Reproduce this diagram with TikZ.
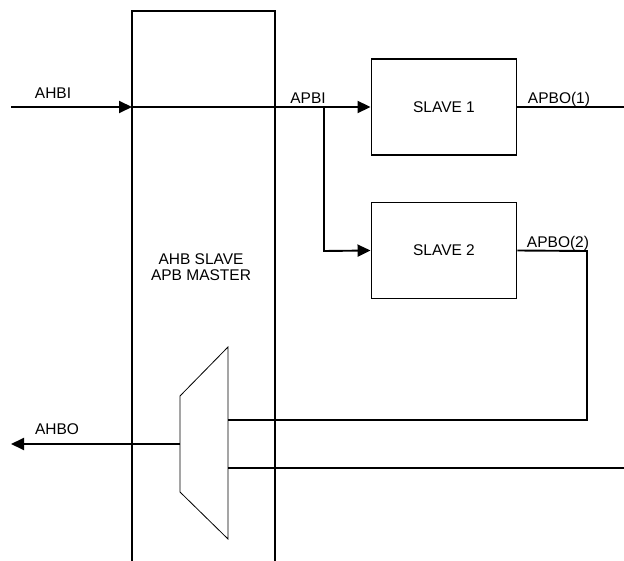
\documentclass[tikz,border=0pt]{standalone}
\usepackage{fontspec}
\setmainfont{Liberation Sans}
\usetikzlibrary{arrows.meta}
\begin{document}
\begin{tikzpicture}[x=1pt,y=-1pt,
  wire/.style={line width=1.9pt},
  arr/.style={wire,-{Triangle[length=13pt,width=12pt]}},
  slavebox/.style={draw,line width=1.9pt,minimum width=145pt,minimum height=96pt,inner sep=0pt,font=\fontsize{15.5}{17}\selectfont},
  lbl/.style={font=\fontsize{15.5}{17}\selectfont,inner sep=0pt}]
\useasboundingbox (0,0) rectangle (624,561);
% big box (open at the bottom)
\draw[wire] (132,561) -- (132,11) -- (275,11) -- (275,561);
\node[lbl,align=center,font=\fontsize{15.5}{15.5}\selectfont] (bridge) at (201,267) {AHB SLAVE\\APB MASTER};
% slaves
\node[slavebox] (s1) at (444,107) {SLAVE 1};
\node[slavebox] (s2) at (444,250.5) {SLAVE 2};
% coordinates
\coordinate (ahbiin) at (11,107);
\coordinate (boxin) at (132,107);
\coordinate (br) at (324,107);
\coordinate (brd) at (324,251);
\coordinate (o1) at (624,107);
\coordinate (o2a) at (587,251);
\coordinate (o2b) at (587,420);
\coordinate (m1) at (228,420);
\coordinate (m2) at (228,468);
\coordinate (o3) at (624,468);
\coordinate (mout) at (180,444);
\coordinate (ahbo) at (11,444);
% mux
\draw[line width=0.8pt] (180,396) -- (228,347) -- (228,539) -- (180,492) -- cycle;
% connectors
\draw[arr] (ahbiin) -- (boxin);
\draw[arr] (boxin) -- (s1.west);
\draw[arr] (br) -- (brd) -- (s2.west);
\draw[wire] (s1.east) -- (o1);
\draw[wire] (s2.east) -- (o2a) -- (o2b) -- (m1);
\draw[wire] (m2) -- (o3);
\draw[arr] (mout) -- (ahbo);
% labels
\node[lbl] (lahbi) at (53,93) {AHBI};
\node[lbl] (lapbi) at (308,98) {APBI};
\node[lbl] (lapbo1) at (559,99) {APBO(1)};
\node[lbl] (lapbo2) at (558,243) {APBO(2)};
\node[lbl] (lahbo) at (57,429) {AHBO};
\end{tikzpicture}
\end{document}
